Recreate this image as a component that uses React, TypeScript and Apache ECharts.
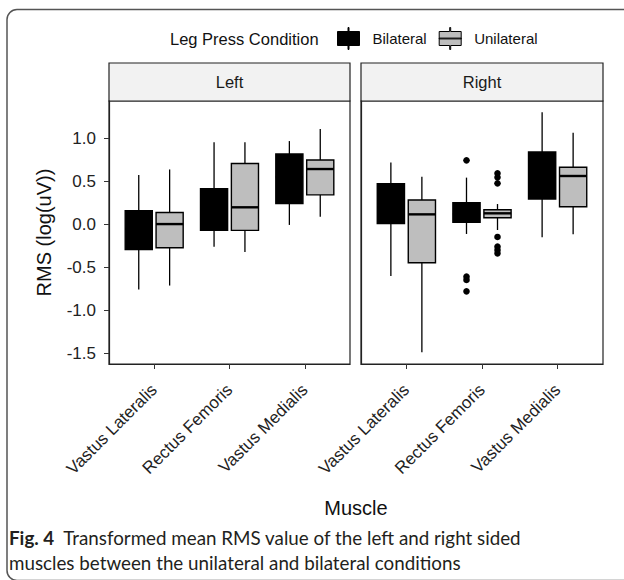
import React, { useEffect, useRef } from 'react';
import * as echarts from 'echarts';

const muscles = ['Vastus Lateralis', 'Rectus Femoris', 'Vastus Medialis'];
const conditions = ['Bilateral', 'Unilateral'];
const sides = ['Left', 'Right'];
const yTicks = [-1.5, -1.0, -0.5, 0.0, 0.5, 1.0];
const xTicks = [0, 1, 2];

// [min, q1, median, q3, max] per muscle
const leftBilateral = [
  [-0.755, -0.29, -0.05, 0.16, 0.575],
  [-0.26, -0.068, 0.15, 0.415, 0.955],
  [-0.005, 0.245, 0.55, 0.82, 0.97],
];
const leftUnilateral = [
  [-0.71, -0.27, 0.005, 0.14, 0.64],
  [-0.32, -0.068, 0.2, 0.71, 0.955],
  [0.09, 0.345, 0.645, 0.75, 1.11],
];
const rightBilateral = [
  [-0.6, 0.01, 0.2, 0.475, 0.72],
  [-0.11, 0.026, 0.12, 0.254, 0.545],
  [-0.149, 0.297, 0.55, 0.843, 1.305],
];
const rightUnilateral = [
  [-1.486, -0.445, 0.118, 0.285, 0.556],
  [-0.064, 0.079, 0.13, 0.172, 0.238],
  [-0.114, 0.207, 0.564, 0.665, 1.067],
];
// [muscle index, value]
const rightBilateralOutliers = [
  [1, 0.746], [1, -0.607], [1, -0.645], [1, -0.777],
];
const rightUnilateralOutliers = [
  [1, 0.595], [1, 0.549], [1, 0.479], [1, -0.145], [1, -0.258], [1, -0.297], [1, -0.335],
];

const FONT = '"Liberation Sans", Arial, sans-serif';
const CAP_FONT = 'Lato, "Open Sans", sans-serif';
const BIL_FILL = '#000000';
const UNI_FILL = '#bebebe';
const OFFSET = 0.205;
const HALF = 0.18;

const iconBil = 'path://M0,4H10.5V0H11.5V4H22V18H11.5V22H10.5V18H0Z';
const iconUni = 'path://M0,4H10.5V0H11.5V4H22V18H11.5V22H10.5V18H0ZM0,10.6H22V11.4H0Z';

function makeBoxRender(offset: number, fill: string) {
  return (params: any, api: any) => {
    const x = api.value(0);
    const vals = [1, 2, 3, 4, 5].map((i) => api.value(i));
    const unit = api.size([1, 0], [x, 0])[0];
    const cx = api.coord([x, 0])[0] + offset * unit;
    const hw = HALF * unit;
    const py = vals.map((v) => api.coord([x, v])[1]);
    const ls = { stroke: '#000', lineWidth: 1.3 };
    return {
      type: 'group',
      children: [
        { type: 'line', shape: { x1: cx, y1: py[4], x2: cx, y2: py[3] }, style: ls },
        { type: 'line', shape: { x1: cx, y1: py[1], x2: cx, y2: py[0] }, style: ls },
        {
          type: 'rect',
          shape: { x: cx - hw, y: py[3], width: 2 * hw, height: py[1] - py[3] },
          style: { fill, stroke: '#000', lineWidth: 1.4 },
        },
        { type: 'line', shape: { x1: cx - hw, y1: py[2], x2: cx + hw, y2: py[2] }, style: { stroke: '#000', lineWidth: 2.4 } },
      ],
    };
  };
}

function makePointRender(offset: number) {
  return (params: any, api: any) => {
    const x = api.value(0);
    const unit = api.size([1, 0], [x, 0])[0];
    const p = api.coord([x, api.value(1)]);
    return {
      type: 'circle',
      shape: { cx: p[0] + offset * unit, cy: p[1], r: 3.3 },
      style: { fill: '#000' },
    };
  };
}

const boxData = (arr: number[][]) => arr.map((v, i) => [i, ...v]);

export default function App() {
  const ref = useRef<HTMLDivElement>(null);
  useEffect(() => {
    if (!ref.current) return;
    const chart = echarts.init(ref.current, null, { renderer: 'svg' });
    const grids = [
      { left: 109, top: 101, width: 241, height: 263 },
      { left: 361, top: 101, width: 242, height: 263 },
    ];
    const xAxes = grids.map((g, gi) => ({
      type: 'value',
      gridIndex: gi,
      min: -0.6,
      max: 2.6,
      splitLine: { show: false },
      axisLine: { show: true, onZero: false, lineStyle: { color: '#222', width: 1.2 } },
      axisTick: { show: true, customValues: xTicks, length: 5, lineStyle: { color: '#333', width: 1 } },
      axisLabel: {
        customValues: xTicks,
        rotate: 45,
        margin: 23,
        fontSize: 17,
        fontFamily: FONT,
        color: '#222',
        formatter: (v: number) => muscles[Math.round(v)],
      },
    }));
    const yAxes = grids.map((g, gi) => ({
      type: 'value',
      gridIndex: gi,
      min: -1.622,
      max: 1.436,
      splitLine: { show: false },
      axisLine: { show: true, onZero: false, lineStyle: { color: '#222', width: 1.2 } },
      axisTick: { show: gi === 0, customValues: yTicks, length: 5, lineStyle: { color: '#333', width: 1 } },
      axisLabel: {
        show: gi === 0,
        customValues: yTicks,
        margin: 13,
        fontSize: 17,
        fontFamily: FONT,
        color: '#222',
        formatter: (v: number) => v.toFixed(1),
      },
      name: gi === 0 ? 'RMS (log(uV))' : '',
      nameLocation: 'middle',
      nameGap: 55,
      nameTextStyle: { fontSize: 20, fontFamily: FONT, color: '#111' },
    }));

    const boxSets = [
      { name: conditions[0], data: leftBilateral, gi: 0, off: -OFFSET, fill: BIL_FILL },
      { name: conditions[1], data: leftUnilateral, gi: 0, off: OFFSET, fill: UNI_FILL },
      { name: conditions[0], data: rightBilateral, gi: 1, off: -OFFSET, fill: BIL_FILL },
      { name: conditions[1], data: rightUnilateral, gi: 1, off: OFFSET, fill: UNI_FILL },
    ];
    const series: any[] = boxSets.map((s) => ({
      type: 'custom',
      name: s.name,
      xAxisIndex: s.gi,
      yAxisIndex: s.gi,
      itemStyle: { color: s.fill, borderColor: '#000' },
      encode: { x: 0, y: [1, 2, 3, 4, 5] },
      renderItem: makeBoxRender(s.off, s.fill),
      data: boxData(s.data),
    }));
    series.push({
      type: 'custom',
      name: conditions[0],
      xAxisIndex: 1,
      yAxisIndex: 1,
      itemStyle: { color: BIL_FILL },
      encode: { x: 0, y: 1 },
      renderItem: makePointRender(-OFFSET),
      data: rightBilateralOutliers,
    });
    series.push({
      type: 'custom',
      name: conditions[1],
      xAxisIndex: 1,
      yAxisIndex: 1,
      itemStyle: { color: UNI_FILL },
      encode: { x: 0, y: 1 },
      renderItem: makePointRender(OFFSET),
      data: rightUnilateralOutliers,
    });

    const strips: any[] = [];
    grids.forEach((g, gi) => {
      strips.push({
        type: 'rect',
        shape: { x: g.left, y: 63, width: g.width, height: g.top - 63 },
        style: { fill: '#f2f2f2', stroke: '#222', lineWidth: 1.2 },
      });
      strips.push({
        type: 'text',
        x: g.left + g.width / 2,
        y: 82,
        style: { text: sides[gi], fontSize: 16.5, fontFamily: FONT, fill: '#1a1a1a', align: 'center', verticalAlign: 'middle' },
      });
    });

    chart.setOption({
      animation: false,
      backgroundColor: '#ffffff',
      title: {
        text: 'Leg Press Condition',
        left: 170,
        top: 30,
        padding: 0,
        textStyle: { fontSize: 16.5, fontWeight: 'normal', fontFamily: FONT, color: '#111' },
      },
      legend: {
        left: 337,
        top: 27,
        padding: 0,
        itemWidth: 22,
        itemHeight: 22,
        itemGap: 12,
        selectedMode: false,
        data: [
          { name: conditions[0], icon: iconBil, itemStyle: { color: BIL_FILL, borderColor: '#000', borderWidth: 1 } },
          { name: conditions[1], icon: iconUni, itemStyle: { color: UNI_FILL, borderColor: '#000', borderWidth: 1 } },
        ],
        textStyle: { fontSize: 15, fontFamily: FONT, color: '#111', padding: [0, 0, 0, 8] },
      },
      grid: grids.map((g) => ({ ...g, show: true, borderColor: '#222', borderWidth: 1.2, backgroundColor: '#fff' })),
      xAxis: xAxes,
      yAxis: yAxes,
      series,
      graphic: [
        {
          type: 'rect',
          shape: { x: 7, y: 9.5, width: 640, height: 571, r: 10 },
          style: { fill: 'none', stroke: '#555', lineWidth: 1.5 },
          silent: true,
          z: -10,
        },
        ...strips,
        {
          type: 'text',
          x: 356,
          y: 508,
          style: { text: 'Muscle', fontSize: 20, fontFamily: FONT, fill: '#111', align: 'center', verticalAlign: 'middle' },
        },
        {
          type: 'text',
          x: 9,
          y: 525,
          style: {
            text: '{b|Fig. 4}  Transformed mean RMS value of the left and right sided\nmuscles between the unilateral and bilateral conditions',
            fontSize: 18.8,
            fontFamily: CAP_FONT,
            fill: '#231f20',
            lineHeight: 25,
            verticalAlign: 'top',
            rich: {
              b: { fontSize: 18.8, fontWeight: 'bold', fontFamily: CAP_FONT, fill: '#231f20', lineHeight: 25 },
            },
          },
        },
      ],
    });
    return () => chart.dispose();
  }, []);
  return <div ref={ref} style={{ position: 'fixed', left: 0, top: 0, width: 624, height: 580 }} />;
}
